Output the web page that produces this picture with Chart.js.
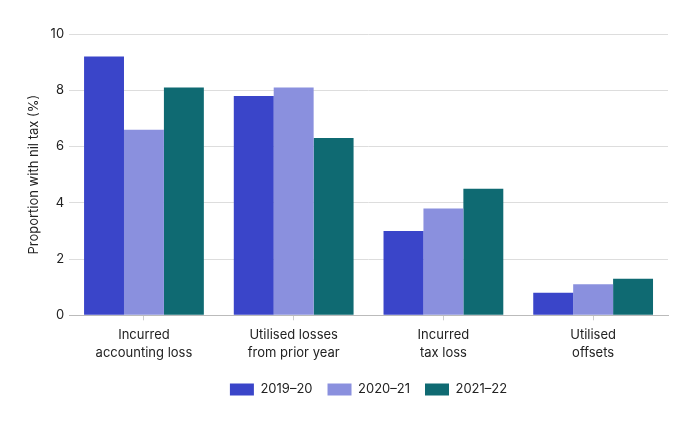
<!DOCTYPE html>
<html>
<head>
<meta charset="utf-8">
<script src="https://cdn.jsdelivr.net/npm/chart.js@4"></script>
<style>
  html, body { margin: 0; padding: 0; background: #fff; }
  #wrap { width: 689px; height: 425px; }
</style>
</head>
<body>
<div id="wrap"><canvas id="nilTaxChart" width="689" height="425"></canvas></div>
<script>
// Categories and series
const categories = [
    ['Incurred', 'accounting loss'],
    ['Utilised losses', 'from prior year'],
    ['Incurred', 'tax loss'],
    ['Utilised', 'offsets']
];
const years = ['2019–20', '2020–21', '2021–22'];
const values2019 = [9.2, 7.8, 3.0, 0.8];
const values2020 = [6.6, 8.1, 3.8, 1.1];
const values2021 = [8.1, 6.3, 4.5, 1.3];
const yTicks = [0, 2, 4, 6, 8, 10];

const colors = ['#3a45c9', '#8a90de', '#0f6a72'];
const series = [values2019, values2020, values2021];

Chart.defaults.font.family = 'Inter, "Noto Sans", sans-serif';
Chart.defaults.font.size = 13;
Chart.defaults.color = '#222';

const datasets = series.map((vals, i) => ({
    label: years[i],
    data: vals,
    backgroundColor: colors[i],
    borderWidth: 0,
    categoryPercentage: 0.8,
    barPercentage: 1.0
}));

// Center the legend under the plot area rather than the whole canvas
const legendUnderPlot = {
    id: 'legendUnderPlot',
    afterLayout(chart) {
        const lg = chart.legend;
        if (!lg) return;
        lg.left = chart.chartArea.left;
        lg.right = chart.chartArea.right;
    }
};

const ctx = document.getElementById('nilTaxChart').getContext('2d');
new Chart(ctx, {
    type: 'bar',
    data: {
        labels: categories,
        datasets: datasets
    },
    plugins: [legendUnderPlot],
    options: {
        responsive: false,
        animation: false,
        layout: {
            padding: { top: 34, right: 21, left: 22, bottom: 19 }
        },
        plugins: {
            legend: {
                display: true,
                position: 'bottom',
                labels: {
                    boxWidth: 24,
                    boxHeight: 12,
                    padding: 15,
                    font: { size: 13 }
                }
            },
            tooltip: { enabled: false }
        },
        scales: {
            x: {
                grid: {
                    display: true,
                    offset: false,
                    drawOnChartArea: false,
                    drawTicks: true,
                    tickLength: 5,
                    color: '#cccccc'
                },
                border: { display: true, color: '#bbbbbb' },
                ticks: { padding: 5, maxRotation: 0, font: { size: 13, lineHeight: 1.45 } }
            },
            y: {
                min: 0,
                max: 10,
                afterBuildTicks: (axis) => {
                    axis.ticks = yTicks.map(v => ({ value: v }));
                },
                grid: {
                    color: '#dddddd',
                    drawTicks: false
                },
                border: { display: false },
                ticks: { padding: 5 },
                title: {
                    display: true,
                    text: 'Proportion with nil tax (%)',
                    font: { size: 13 },
                    padding: { top: 4, bottom: 4 }
                }
            }
        }
    }
});
</script>
</body>
</html>
